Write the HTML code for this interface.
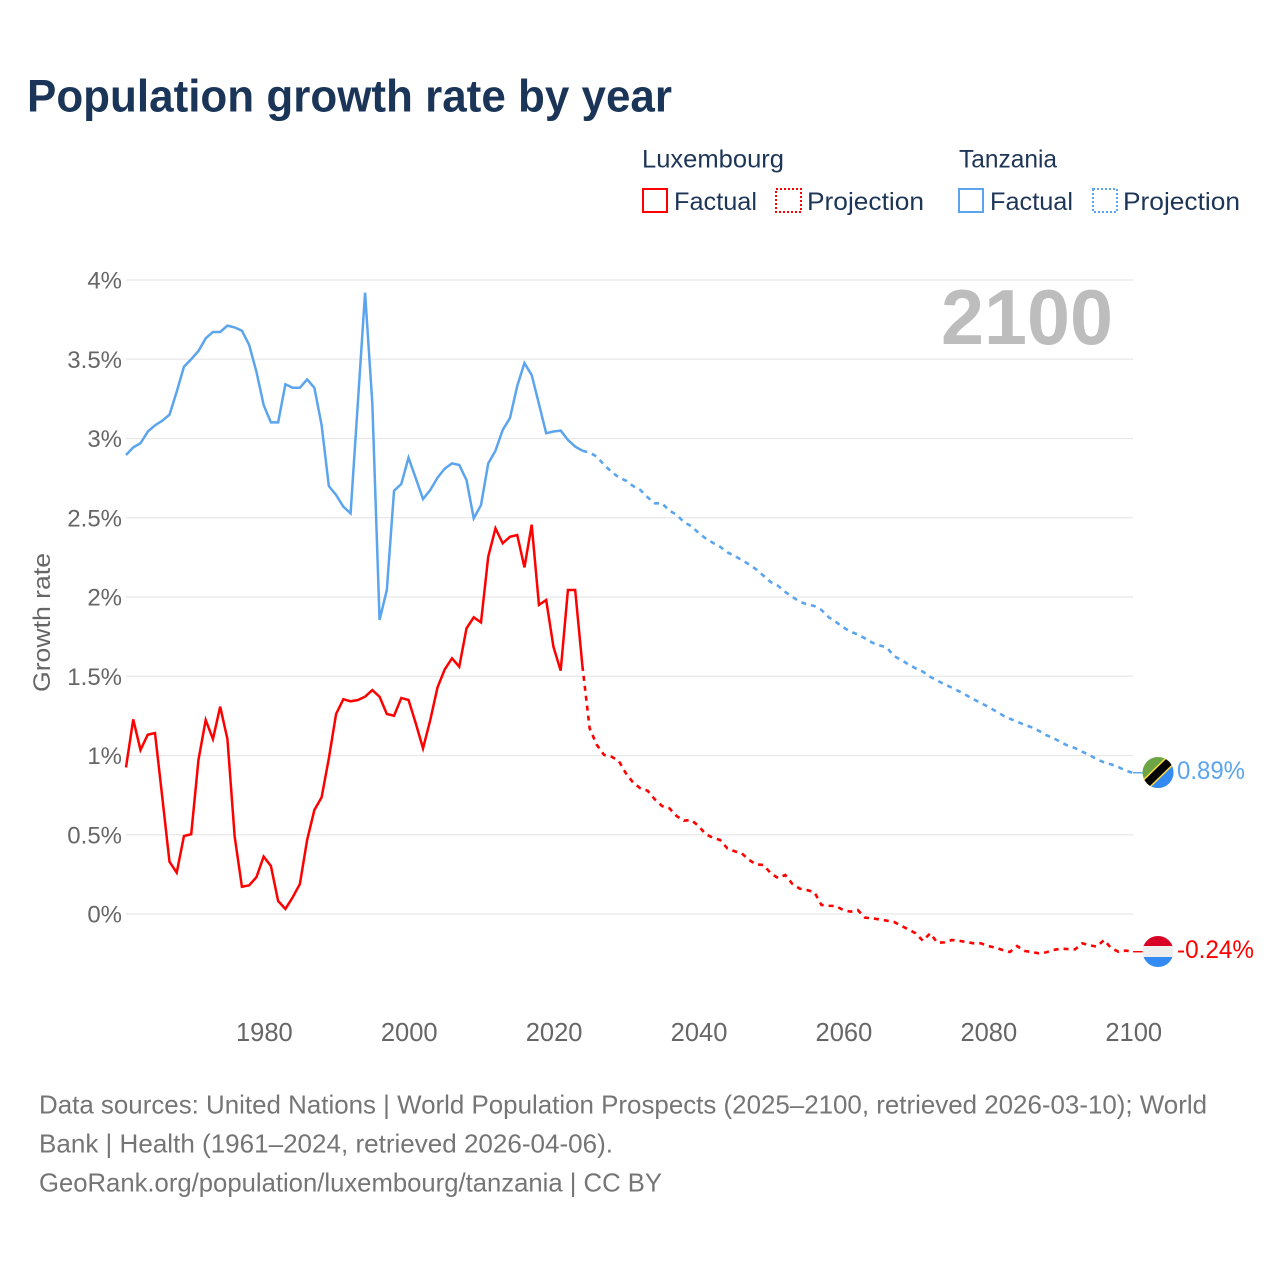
<!DOCTYPE html>
<html lang="en">
<head>
<meta charset="utf-8">
<title>Population growth rate by year</title>
<style>
html,body{margin:0;padding:0;background:#fff;}
svg{display:block;font-family:"Liberation Sans",sans-serif;}
</style>
</head>
<body>
<svg id="chart" xmlns="http://www.w3.org/2000/svg" width="1280" height="1280" viewBox="0 0 1280 1280">
  <rect x="0" y="0" width="1280" height="1280" fill="#ffffff"/>
  <text x="27" y="111.5" font-size="45" font-weight="700" fill="#1a3557" textLength="645" lengthAdjust="spacingAndGlyphs">Population growth rate by year</text>

  <g font-size="25" fill="#1d3557">
    <text x="642" y="167.5" textLength="142" lengthAdjust="spacingAndGlyphs">Luxembourg</text>
    <text x="959" y="167.5" textLength="98" lengthAdjust="spacingAndGlyphs">Tanzania</text>
    <g>
      <rect x="643" y="189" width="24" height="23" fill="none" stroke="#ff0000" stroke-width="2"/>
      <text x="674" y="210" textLength="83" lengthAdjust="spacingAndGlyphs">Factual</text>
    </g>
    <g>
      <rect x="776" y="189" width="25" height="23" fill="none" stroke="#ff0000" stroke-width="2" stroke-dasharray="2 2"/>
      <text x="807" y="210" textLength="117" lengthAdjust="spacingAndGlyphs">Projection</text>
    </g>
    <g>
      <rect x="959" y="189" width="24" height="23" fill="none" stroke="#5ba4ee" stroke-width="2"/>
      <text x="990" y="210" textLength="83" lengthAdjust="spacingAndGlyphs">Factual</text>
    </g>
    <g>
      <rect x="1093" y="189" width="24" height="23" fill="none" stroke="#5ba4ee" stroke-width="2" stroke-dasharray="2 2"/>
      <text x="1123" y="210" textLength="117" lengthAdjust="spacingAndGlyphs">Projection</text>
    </g>
  </g>

  <g id="grid"></g>
  <g id="yticks"></g>
  <g id="xticks"></g>
  <text transform="translate(50,622.5) rotate(-90)" text-anchor="middle" font-size="24" fill="#666666" textLength="139" lengthAdjust="spacingAndGlyphs">Growth rate</text>
  <text x="941" y="344" font-size="78" font-weight="700" fill="#bdbdbd" textLength="172" lengthAdjust="spacingAndGlyphs">2100</text>

  <g id="series"></g>

  <defs>
    <clipPath id="clip-tz"><circle cx="1158" cy="772.5" r="15.5"/></clipPath>
    <clipPath id="clip-lu"><circle cx="1158" cy="951.5" r="15.5"/></clipPath>
  </defs>
  <g clip-path="url(#clip-tz)">
    <rect x="1142" y="756" width="32" height="33" fill="#6da544"/>
    <polygon points="1174,756 1174,789 1142,789" fill="#338af3"/>
    <line x1="1139" y1="791" x2="1177" y2="754" stroke="#ffda44" stroke-width="11"/>
    <line x1="1139" y1="791" x2="1177" y2="754" stroke="#000000" stroke-width="8"/>
  </g>
  <g clip-path="url(#clip-lu)">
    <rect x="1142" y="935" width="32" height="12" fill="#d80027"/>
    <rect x="1142" y="946" width="32" height="11" fill="#eeeeee"/>
    <rect x="1142" y="957" width="32" height="11" fill="#338af3"/>
  </g>
  <g id="endlabels"></g>

  <g font-size="26" fill="#757575">
    <text x="39" y="1113.5" textLength="1168" lengthAdjust="spacingAndGlyphs">Data sources: United Nations | World Population Prospects (2025–2100, retrieved 2026-03-10); World</text>
    <text x="39" y="1152.5" textLength="574" lengthAdjust="spacingAndGlyphs">Bank | Health (1961–2024, retrieved 2026-04-06).</text>
    <text x="39" y="1191.5" textLength="623" lengthAdjust="spacingAndGlyphs">GeoRank.org/population/luxembourg/tanzania | CC BY</text>
  </g>
</svg>
<script>
const yTickValues = [0, 0.5, 1, 1.5, 2, 2.5, 3, 3.5, 4];
const yTickLabels = ['0%', '0.5%', '1%', '1.5%', '2%', '2.5%', '3%', '3.5%', '4%'];
const xTickValues = [1980, 2000, 2020, 2040, 2060, 2080, 2100];
const factualStartYear = 1961;
const projectionStartYear = 2024;

const tanzaniaFactual = [
  2.896,2.944,2.970,3.043,3.083,3.112,3.150,3.295,3.453,3.500,
  3.552,3.632,3.672,3.672,3.712,3.701,3.680,3.590,3.422,3.211,
  3.102,3.102,3.342,3.320,3.320,3.373,3.320,3.085,2.700,2.644,
  2.570,2.528,3.222,3.920,3.222,1.855,2.044,2.671,2.713,2.879,
  2.749,2.618,2.675,2.753,2.810,2.843,2.833,2.738,2.496,2.580,
  2.843,2.923,3.054,3.129,3.331,3.476,3.400,3.218,3.033,3.044,
  3.050,2.991,2.949,2.923
];
const tanzaniaProjection = [
  2.923,2.911,2.886,2.833,2.791,2.755,2.734,2.700,2.675,2.629,2.591,
  2.591,2.545,2.519,2.473,2.448,2.406,2.370,2.342,2.317,2.282,
  2.259,2.233,2.206,2.174,2.134,2.094,2.071,2.032,2.000,1.970,
  1.954,1.943,1.918,1.872,1.842,1.809,1.781,1.764,1.739,1.712,
  1.695,1.682,1.628,1.603,1.575,1.550,1.529,1.497,1.472,1.449,
  1.428,1.405,1.380,1.355,1.331,1.308,1.281,1.254,1.232,1.213,
  1.194,1.178,1.156,1.129,1.110,1.085,1.062,1.047,1.024,1.003,
  0.976,0.957,0.944,0.927,0.904,0.891
];
const luxembourgFactual = [
  0.925,1.228,1.035,1.131,1.142,0.740,0.330,0.261,0.492,0.503,
  0.972,1.224,1.104,1.308,1.104,0.488,0.172,0.181,0.232,0.362,
  0.303,0.082,0.032,0.105,0.189,0.467,0.656,0.736,0.982,1.262,
  1.355,1.342,1.350,1.371,1.413,1.371,1.262,1.251,1.363,1.350,
  1.203,1.045,1.224,1.430,1.544,1.613,1.560,1.802,1.872,1.840,
  2.254,2.433,2.339,2.380,2.391,2.187,2.456,1.950,1.981,1.686,
  1.535,2.044,2.044,1.565
];
const luxembourgProjection = [
  1.565,1.171,1.066,1.003,0.993,0.967,0.888,0.829,0.793,0.778,0.723,
  0.681,0.667,0.618,0.589,0.593,0.557,0.505,0.481,0.467,0.414,
  0.396,0.383,0.341,0.313,0.309,0.257,0.227,0.246,0.189,0.160,
  0.151,0.139,0.057,0.052,0.050,0.025,0.015,0.025,-0.023,-0.027,
  -0.034,-0.042,-0.050,-0.074,-0.097,-0.122,-0.169,-0.122,-0.181,-0.179,
  -0.164,-0.169,-0.177,-0.185,-0.185,-0.202,-0.212,-0.227,-0.240,-0.202,
  -0.233,-0.240,-0.248,-0.242,-0.227,-0.219,-0.221,-0.223,-0.185,-0.197,
  -0.206,-0.164,-0.216,-0.238,-0.231,-0.238
];
const tanzaniaEndLabel = '0.89%';
const luxembourgEndLabel = '-0.24%';

const NS = 'http://www.w3.org/2000/svg';
const plotLeft = 126, plotRight = 1133;
const x = year => plotLeft + (year - 1961) * (plotRight - plotLeft) / (2100 - 1961);
const y = value => 914 - value * 158.5;

function make(tag, attrs, parent, text) {
  const el = document.createElementNS(NS, tag);
  for (const k in attrs) el.setAttribute(k, attrs[k]);
  if (text !== undefined) el.textContent = text;
  parent.appendChild(el);
  return el;
}
function pathFor(values, startYear) {
  return values.map((v, i) => (i ? 'L' : 'M') + x(startYear + i).toFixed(2) + ' ' + y(v).toFixed(2)).join('');
}

const gridGroup = document.getElementById('grid');
const yTickGroup = document.getElementById('yticks');
const xTickGroup = document.getElementById('xticks');
const seriesGroup = document.getElementById('series');
const endGroup = document.getElementById('endlabels');

yTickValues.forEach((v, i) => {
  const line = make('line', {x1: plotLeft, x2: plotRight, y1: y(v), y2: y(v), stroke: '#e8e8e8', 'stroke-width': 1.2}, gridGroup);
  
  
  const label = make('text', {x: 122, y: y(v) + 8.5, 'text-anchor': 'end', 'font-size': 24, fill: '#666666'}, yTickGroup, yTickLabels[i]);
  
  
});

xTickValues.forEach(v => {
  const label = make('text', {x: x(v) + 0.7, y: 1041, 'text-anchor': 'middle', 'font-size': 25.5, fill: '#666666'}, xTickGroup, String(v));
  
  
});

const tzColor = '#5ba4ee';
const luColor = '#ff0000';

const tzFactLine = make('path', {d: pathFor(tanzaniaFactual, factualStartYear), fill: 'none', stroke: tzColor, 'stroke-width': 2.5, 'stroke-linejoin': 'miter'}, seriesGroup);



const tzProjLine = make('path', {d: pathFor(tanzaniaProjection, projectionStartYear), fill: 'none', stroke: tzColor, 'stroke-width': 2.6, 'stroke-dasharray': '5 5'}, seriesGroup);



const luFactLine = make('path', {d: pathFor(luxembourgFactual, factualStartYear), fill: 'none', stroke: luColor, 'stroke-width': 2.5, 'stroke-linejoin': 'miter'}, seriesGroup);



const luProjLine = make('path', {d: pathFor(luxembourgProjection, projectionStartYear), fill: 'none', stroke: luColor, 'stroke-width': 2.6, 'stroke-dasharray': '5 5'}, seriesGroup);



const tzLast = tanzaniaProjection[tanzaniaProjection.length - 1];
const luLast = luxembourgProjection[luxembourgProjection.length - 1];

const tzConnector = make('line', {x1: x(2100), x2: 1144, y1: y(tzLast), y2: y(tzLast), stroke: tzColor, 'stroke-width': 1.4}, seriesGroup);



const luConnector = make('line', {x1: x(2100), x2: 1144, y1: y(luLast), y2: y(luLast), stroke: luColor, 'stroke-width': 1.4}, seriesGroup);



const tzEnd = make('text', {x: 1177, y: 779, 'font-size': 25, fill: tzColor, textLength: 68, lengthAdjust: 'spacingAndGlyphs'}, endGroup, tanzaniaEndLabel);



const luEnd = make('text', {x: 1177, y: 958, 'font-size': 25, fill: luColor, textLength: 77, lengthAdjust: 'spacingAndGlyphs'}, endGroup, luxembourgEndLabel);


</script>
</body>
</html>
